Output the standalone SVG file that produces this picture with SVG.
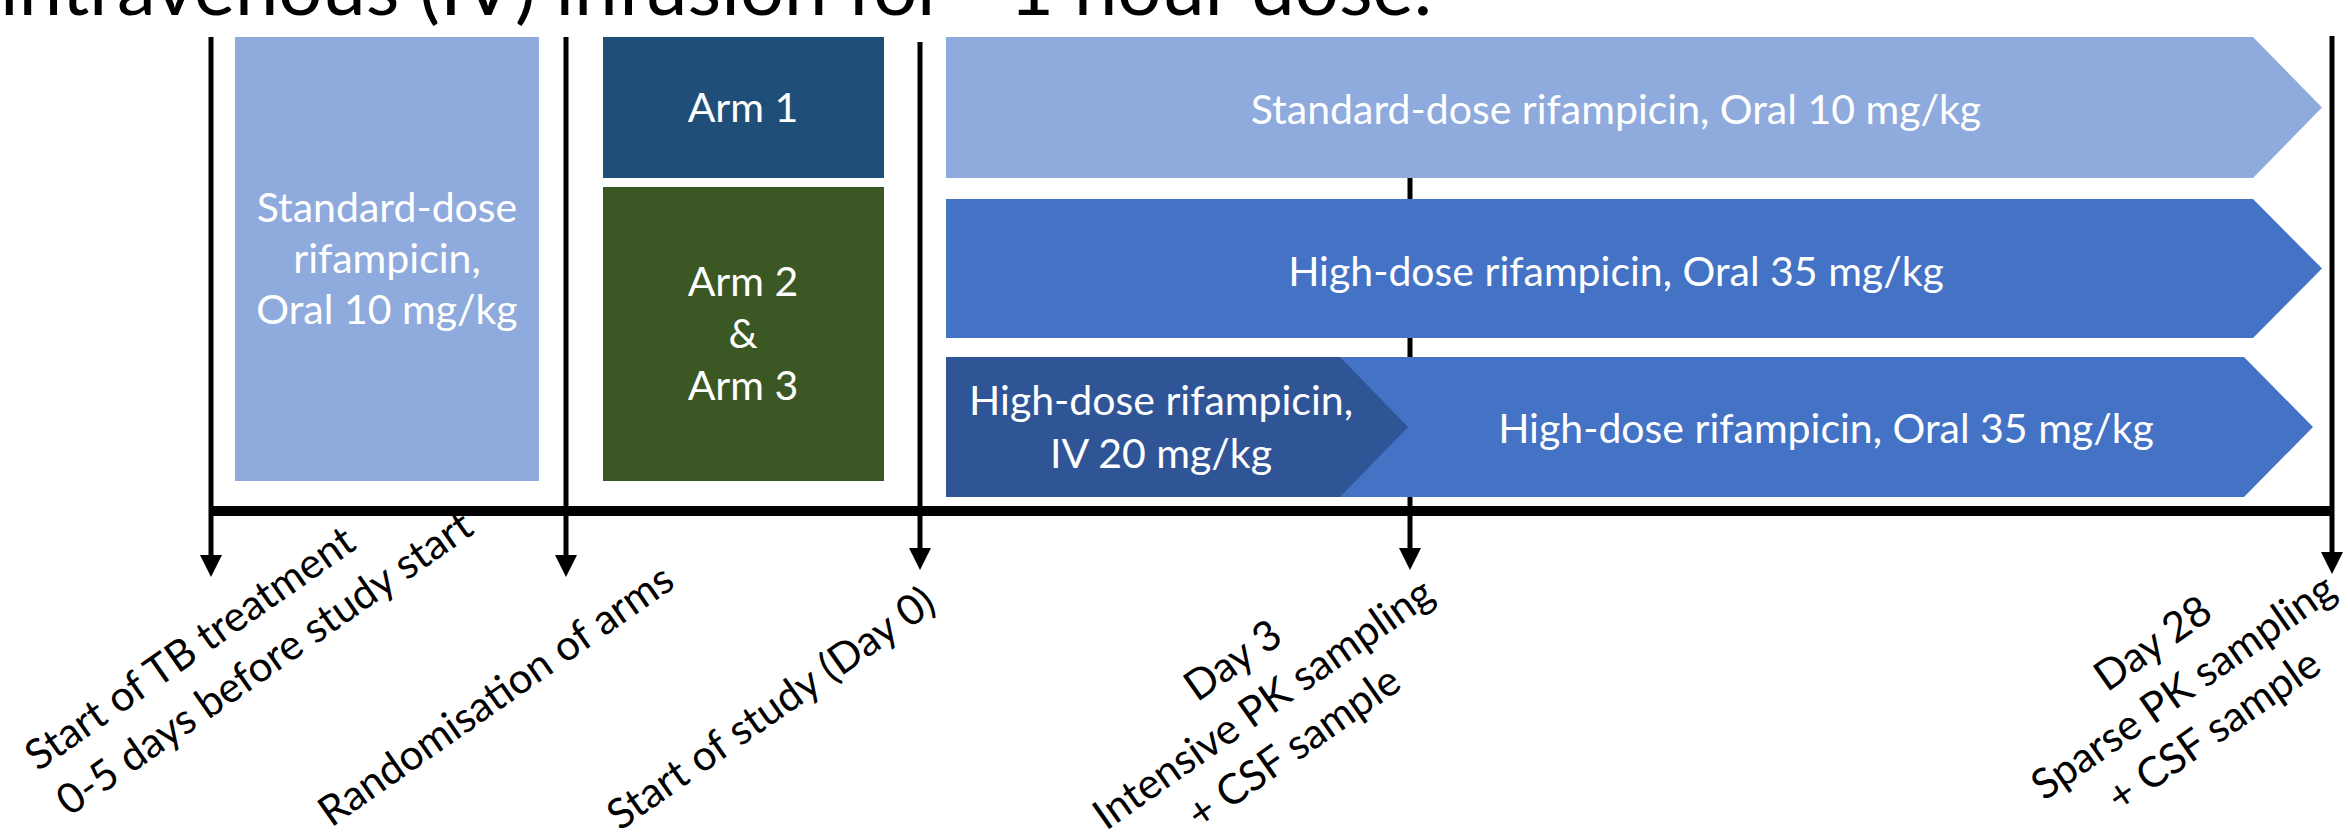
<svg xmlns="http://www.w3.org/2000/svg" width="2348" height="837" viewBox="0 0 2348 837">
<defs>
<style>
.t{font-family:Lato,"Open Sans","Liberation Sans",sans-serif;font-size:41px;fill:#ffffff;text-anchor:middle}
.lbl{font-family:Lato,"Open Sans","Liberation Sans",sans-serif;font-size:42px;fill:#000000}
.title{font-family:Lato,"Open Sans","Liberation Sans",sans-serif;font-size:76px;fill:#000000}
.vl{stroke:#000000;stroke-width:5;fill:none}
.lb{fill:#8FAADC}
.mb{fill:#4472C4}
</style>
<marker id="ah" markerUnits="userSpaceOnUse" markerWidth="22" markerHeight="22" refX="4" refY="11" orient="auto">
<path d="M0,0 L22,11 L0,22 Z" fill="#000000"/>
</marker>
</defs>
<rect width="2348" height="837" fill="#ffffff"/>
<text class="title" x="0" y="15" textLength="1432" lengthAdjust="spacingAndGlyphs">intravenous (IV) infusion for ~1 hour dose.</text>

<g id="connectors">
<line class="vl" x1="1410" y1="178" x2="1410" y2="552" marker-end="url(#ah)"/>
</g>

<g id="pre-treatment">
<rect class="lb" x="235" y="37" width="304" height="444"/>
<text class="t"><tspan x="387" y="222">Standard-dose</tspan><tspan x="387" y="273">rifampicin,</tspan><tspan x="387" y="324">Oral 10 mg/kg</tspan></text>
</g>
<g id="arm1-box">
<rect x="603" y="37" width="281" height="141" fill="#1F4E79"/>
<text class="t" x="743" y="122">Arm 1</text>
</g>
<g id="arm23-box">
<rect x="603" y="187" width="281" height="294" fill="#3A5724"/>
<text class="t"><tspan x="743" y="296">Arm 2</tspan><tspan x="743" y="348">&amp;</tspan><tspan x="743" y="400">Arm 3</tspan></text>
</g>
<g id="arm1-arrow">
<polygon class="lb" points="946,37 2253,37 2322,107.5 2253,178 946,178"/>
<text class="t" x="1616" y="124">Standard-dose rifampicin, Oral 10 mg/kg</text>
</g>
<g id="arm2-arrow">
<polygon class="mb" points="946,199 2253,199 2322,268.5 2253,338 946,338"/>
<text class="t" x="1616" y="286">High-dose rifampicin, Oral 35 mg/kg</text>
</g>
<g id="arm3-oral">
<polygon class="mb" points="1300,357 2244,357 2313,427 2244,497 1300,497"/>
<text class="t" x="1826" y="443">High-dose rifampicin, Oral 35 mg/kg</text>
</g>
<g id="arm3-iv">
<polygon points="946,357 1340,357 1408,427 1340,497 946,497" fill="#2F5597"/>
<text class="t"><tspan x="1161" y="415">High-dose rifampicin,</tspan><tspan x="1161" y="468">IV 20 mg/kg</tspan></text>
</g>

<g id="timeline">
<line class="vl" x1="211" y1="37" x2="211" y2="559" marker-end="url(#ah)"/>
<line class="vl" x1="566" y1="37" x2="566" y2="559" marker-end="url(#ah)"/>
<line class="vl" x1="920" y1="42" x2="920" y2="552" marker-end="url(#ah)"/>
<line class="vl" x1="2332" y1="36" x2="2332" y2="556" marker-end="url(#ah)"/>
<line x1="209" y1="511" x2="2334" y2="511" stroke="#000000" stroke-width="10"/>
</g>

<g id="label-tb-start">
<text class="lbl" transform="translate(38,772) rotate(-35)"><tspan x="0" y="0">Start of TB treatment</tspan><tspan x="0" dy="55">0-5 days before study start</tspan></text>
</g>
<g id="label-randomisation">
<text class="lbl" text-anchor="middle" transform="translate(504,707) rotate(-35)">Randomisation of arms</text>
</g>
<g id="label-study-start">
<text class="lbl" text-anchor="middle" transform="translate(779,720) rotate(-35)">Start of study (Day 0)</text>
</g>
<g id="label-day3">
<text class="lbl" text-anchor="middle" transform="translate(1241,672) rotate(-35)"><tspan x="0" y="0">Day 3</tspan><tspan x="0" dy="53">Intensive PK sampling</tspan><tspan x="0" dy="53">+ CSF sample</tspan></text>
</g>
<g id="label-day28">
<text class="lbl" text-anchor="middle" transform="translate(2161,655) rotate(-35)"><tspan x="0" y="0">Day 28</tspan><tspan x="0" dy="53">Sparse PK sampling</tspan><tspan x="0" dy="53">+ CSF sample</tspan></text>
</g>
</svg>
